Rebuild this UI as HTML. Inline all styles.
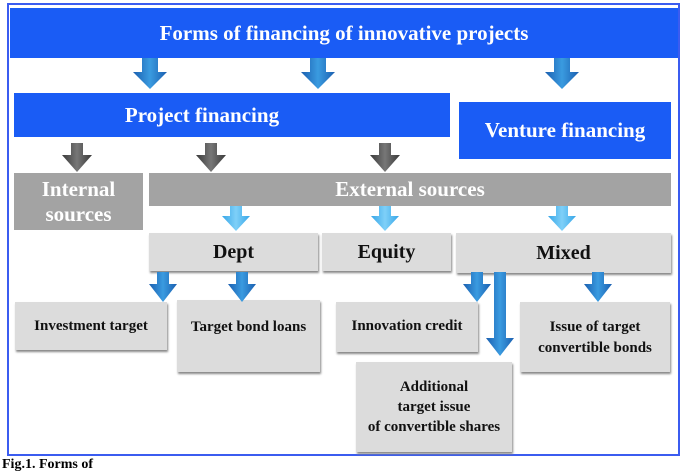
<!DOCTYPE html>
<html><head><style>
body{margin:0;width:688px;height:465px;background:#fff;position:relative;overflow:hidden;font-family:"Liberation Serif",serif;font-weight:bold}
.b{position:absolute;display:flex;align-items:center;justify-content:center;text-align:center;box-sizing:border-box;white-space:nowrap}
.bl{background:#1a5cf5;color:#fff}
.g{background:#a3a3a3;color:#fff}
.lg{background:#dcdcdc;color:#111;box-shadow:1px 2px 2px #888}
svg{position:absolute;left:0;top:0}
</style></head><body>
<div style="position:absolute;left:7px;top:3px;width:673px;height:453px;border:2px solid #3b5cf0;box-sizing:border-box"></div>
<div class="b bl" style="left:10px;top:8px;width:668px;height:50px;font-size:21px">Forms of financing of innovative projects</div>
<div class="b bl" style="left:14px;top:93px;width:436px;height:44px;font-size:21px;padding-right:60px">Project financing</div>
<div class="b bl" style="left:459px;top:102px;width:212px;height:57px;font-size:21px">Venture financing</div>
<div class="b g" style="left:14px;top:173px;width:129px;height:57px;font-size:21px;line-height:25px">Internal<br>sources</div>
<div class="b g" style="left:149px;top:173px;width:522px;height:33px;font-size:21px">External sources</div>
<div class="b lg" style="left:149px;top:233px;width:169px;height:38px;font-size:20px">Dept</div>
<div class="b lg" style="left:322px;top:233px;width:129px;height:38px;font-size:20px">Equity</div>
<div class="b lg" style="left:456px;top:233px;width:215px;height:40px;font-size:20px">Mixed</div>
<div class="b lg" style="left:15px;top:302px;width:152px;height:48px;font-size:15px">Investment target</div>
<div class="b lg" style="left:177px;top:300px;width:143px;height:72px;font-size:15px;align-items:flex-start;padding-top:19px">Target bond loans</div>
<div class="b lg" style="left:336px;top:302px;width:142px;height:50px;font-size:15px;align-items:flex-start;padding-top:16px">Innovation credit</div>
<div class="b lg" style="left:520px;top:302px;width:150px;height:70px;font-size:15px;line-height:21px;align-items:flex-start;padding-top:15px">Issue of target<br>convertible bonds</div>
<div class="b lg" style="left:356px;top:362px;width:156px;height:90px;font-size:15px;line-height:20px">Additional<br>target issue<br>of convertible shares</div>
<div style="position:absolute;left:2px;top:457px;font-size:14px;color:#000">Fig.1. Forms of</div>
<svg width="688" height="465">
<defs>
<linearGradient id="bg" x1="0" x2="1"><stop offset="0" stop-color="#1b5fb0"/><stop offset=".5" stop-color="#3a9be0"/><stop offset="1" stop-color="#1b5fb0"/></linearGradient>
<linearGradient id="lb" x1="0" x2="1"><stop offset="0" stop-color="#36a6e8"/><stop offset=".5" stop-color="#7fd0f8"/><stop offset="1" stop-color="#36a6e8"/></linearGradient>
<linearGradient id="gg" x1="0" x2="1"><stop offset="0" stop-color="#3a3a3a"/><stop offset=".5" stop-color="#777"/><stop offset="1" stop-color="#3a3a3a"/></linearGradient>
</defs>
<g fill="url(#bg)">
<path d="M142 58h16v14h9l-17 17-17-17h9z"/>
<path d="M310 58h16v14h9l-17 17-17-17h9z"/>
<path d="M554 58h16v14h9l-17 17-17-17h9z"/>
<path d="M157 272h12v12h8l-14 18-14-18h8z"/>
<path d="M236 272h12v12h8l-14 18-14-18h8z"/>
<path d="M471 272h12v12h8l-14 18-14-18h8z"/>
<path d="M494 272h12v66h8l-14 18-14-18h8z"/>
<path d="M592 272h12v12h8l-14 18-14-18h8z"/>
</g>
<g fill="url(#gg)">
<path d="M71 143h12v12h9l-15 17-15-17h9z"/>
<path d="M205 143h12v12h9l-15 17-15-17h9z"/>
<path d="M379 143h12v12h9l-15 17-15-17h9z"/>
</g>
<g fill="url(#lb)">
<path d="M230 206h12v10h8l-14 15-14-15h8z"/>
<path d="M379 206h12v10h8l-14 15-14-15h8z"/>
<path d="M556 206h12v10h8l-14 15-14-15h8z"/>
</g>
</svg>
</body></html>
